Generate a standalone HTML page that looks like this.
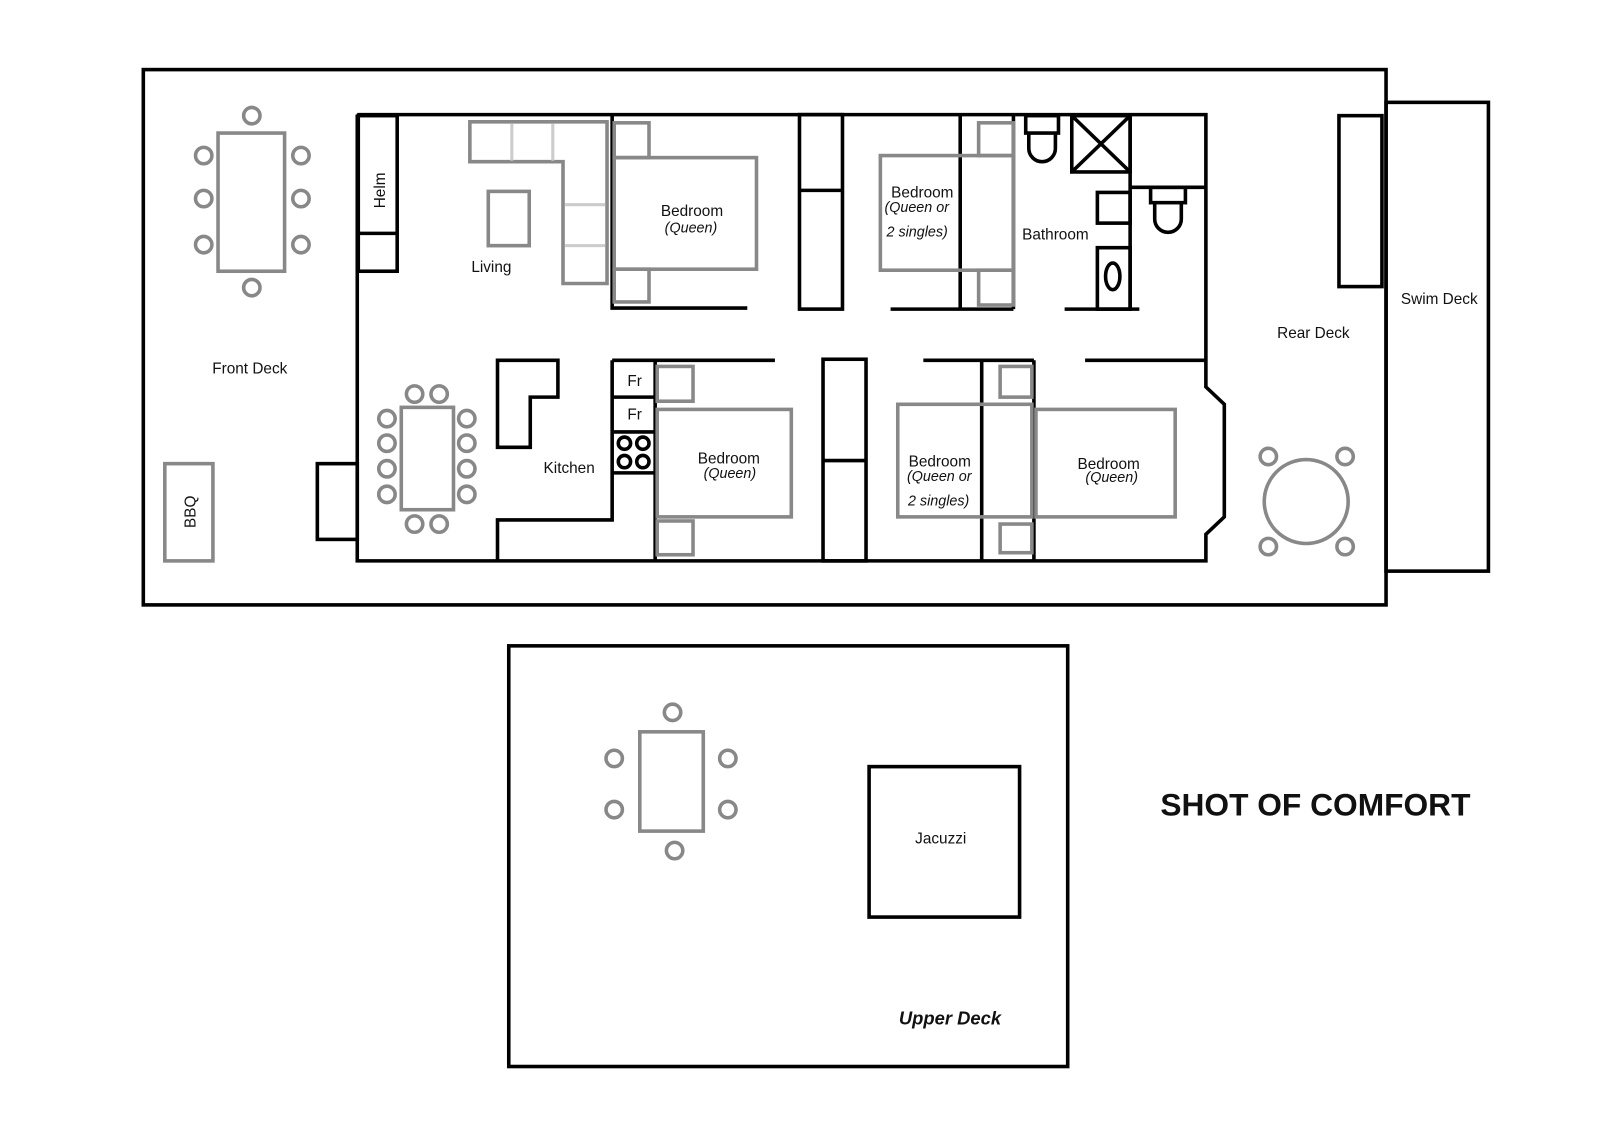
<!DOCTYPE html>
<html><head><meta charset="utf-8"><style>
html,body{margin:0;padding:0;background:#fff;}
svg{display:block;}
text{font-family:"Liberation Sans",sans-serif;fill:#111;}
</style></head><body>
<svg width="1600" height="1131" viewBox="0 0 1563 1105" preserveAspectRatio="none" xmlns="http://www.w3.org/2000/svg">
<rect width="1563" height="1105" fill="#fff"/>
<g fill="none" stroke="#000" stroke-width="3.5">
<rect x="140" y="68" width="1214" height="523"/>
<rect x="1354" y="100" width="100" height="458"/>
<rect x="1308" y="113" width="42" height="167"/>
<!-- cabin -->
<polyline points="349,112 1178,112 1178,378 1196,395 1196,505 1178,522 1178,548 349,548 349,112"/>
<rect x="350" y="113" width="38" height="152"/><line x1="350" y1="228" x2="388" y2="228"/>
<polyline points="598,112 598,301 730,301"/>
<rect x="781" y="112" width="42" height="190"/><line x1="781" y1="186" x2="823" y2="186"/>
<line x1="938" y1="112" x2="938" y2="302"/><line x1="990" y1="112" x2="990" y2="302"/>
<line x1="870" y1="302" x2="990" y2="302"/>
<rect x="1002" y="113" width="32" height="17"/>
<path d="M1005,130 V145 A13,13 0 0 0 1031,145 V130"/>
<rect x="1047" y="113" width="57" height="55"/>
<line x1="1047" y1="113" x2="1104" y2="168"/><line x1="1104" y1="113" x2="1047" y2="168"/>
<line x1="1104" y1="112" x2="1104" y2="302"/>
<line x1="1104" y1="183" x2="1178" y2="183"/>
<rect x="1124" y="183" width="34" height="15"/>
<path d="M1128,198 V214 A13,13 0 0 0 1154,214 V198"/>
<rect x="1072" y="188" width="32" height="30"/>
<rect x="1072" y="242" width="32" height="60"/>
<ellipse cx="1087" cy="270" rx="7" ry="13"/>
<line x1="1040" y1="302" x2="1113" y2="302"/>
<!-- lower -->
<line x1="598" y1="352" x2="757" y2="352"/>
<polyline points="598,352 598,508 486,508 486,548"/>
<line x1="640" y1="352" x2="640" y2="548"/>
<line x1="598" y1="388" x2="640" y2="388"/><line x1="598" y1="422" x2="640" y2="422"/><line x1="598" y1="462" x2="640" y2="462"/>
<circle cx="610" cy="433" r="6"/><circle cx="628" cy="433" r="6"/><circle cx="610" cy="451" r="6"/><circle cx="628" cy="451" r="6"/>
<polygon points="486,352 545,352 545,388 518,388 518,437 486,437"/>
<rect x="310" y="453" width="39" height="74"/>
<rect x="804" y="351" width="42" height="197"/><line x1="804" y1="450" x2="846" y2="450"/>
<line x1="902" y1="352" x2="1010" y2="352"/>
<line x1="959" y1="352" x2="959" y2="548"/><line x1="1010" y1="352" x2="1010" y2="548"/>
<line x1="1060" y1="352" x2="1178" y2="352"/>
<!-- upper deck -->
<rect x="497" y="631" width="546" height="411"/>
<rect x="849" y="749" width="147" height="147"/>
</g>
<g fill="none" stroke="#888" stroke-width="3.5">
<rect x="213" y="130" width="65" height="135"/>
<circle cx="246" cy="113" r="8"/><circle cx="246" cy="281" r="8"/>
<circle cx="199" cy="152" r="8"/><circle cx="199" cy="194" r="8"/><circle cx="199" cy="239" r="8"/>
<circle cx="294" cy="152" r="8"/><circle cx="294" cy="194" r="8"/><circle cx="294" cy="239" r="8"/>
<rect x="161" y="453" width="47" height="95"/>
<circle cx="1276" cy="490" r="41"/>
<circle cx="1239" cy="446" r="8"/><circle cx="1314" cy="446" r="8"/><circle cx="1239" cy="534" r="8"/><circle cx="1314" cy="534" r="8"/>
<polygon points="459,119 593,119 593,277 550,277 550,158 459,158"/>
<rect x="477" y="187" width="40" height="53"/>
<rect x="600" y="154" width="139" height="109"/>
<rect x="600" y="120" width="34" height="34"/><rect x="600" y="263" width="34" height="32"/>
<rect x="860" y="152" width="130" height="112"/>
<rect x="956" y="120" width="34" height="32"/><rect x="956" y="264" width="34" height="34"/>
<rect x="642" y="400" width="131" height="105"/>
<rect x="642" y="358" width="35" height="34"/><rect x="642" y="509" width="35" height="33"/>
<rect x="392" y="398" width="51" height="100"/>
<circle cx="378" cy="409" r="8"/><circle cx="378" cy="433" r="8"/><circle cx="378" cy="458" r="8"/><circle cx="378" cy="483" r="8"/>
<circle cx="456" cy="409" r="8"/><circle cx="456" cy="433" r="8"/><circle cx="456" cy="458" r="8"/><circle cx="456" cy="483" r="8"/>
<circle cx="405" cy="385" r="8"/><circle cx="429" cy="385" r="8"/><circle cx="405" cy="512" r="8"/><circle cx="429" cy="512" r="8"/>
<rect x="877" y="395" width="131" height="110"/>
<rect x="977" y="358" width="31" height="30"/><rect x="977" y="512" width="31" height="28"/>
<rect x="1012" y="400" width="136" height="105"/>
<rect x="625" y="715" width="62" height="97"/>
<circle cx="657" cy="696" r="8"/><circle cx="659" cy="831" r="8"/>
<circle cx="600" cy="741" r="8"/><circle cx="600" cy="791" r="8"/><circle cx="711" cy="741" r="8"/><circle cx="711" cy="791" r="8"/>
</g>
<g stroke="#ccc" stroke-width="3">
<line x1="500" y1="121" x2="500" y2="157"/><line x1="540" y1="121" x2="540" y2="157"/>
<line x1="552" y1="200" x2="591" y2="200"/><line x1="552" y1="240" x2="591" y2="240"/>
</g>
<g font-size="15">
<text x="376" y="186" transform="rotate(-90 376 186)" text-anchor="middle">Helm</text>
<text x="191" y="500" transform="rotate(-90 191 500)" text-anchor="middle">BBQ</text>
<text x="480" y="266" text-anchor="middle">Living</text>
<text x="244" y="365" text-anchor="middle">Front Deck</text>
<text x="676" y="211" text-anchor="middle">Bedroom</text>
<text x="675" y="227" text-anchor="middle" font-style="italic" font-size="14">(Queen)</text>
<text x="901" y="193" text-anchor="middle">Bedroom</text>
<text x="864" y="207" font-style="italic" font-size="14">(Queen or</text>
<text x="866" y="231" font-style="italic" font-size="14">2 singles)</text>
<text x="1031" y="234" text-anchor="middle">Bathroom</text>
<text x="1283" y="330" text-anchor="middle">Rear Deck</text>
<text x="1406" y="297" text-anchor="middle">Swim Deck</text>
<text x="620" y="377" text-anchor="middle">Fr</text>
<text x="620" y="410" text-anchor="middle">Fr</text>
<text x="556" y="462" text-anchor="middle">Kitchen</text>
<text x="712" y="453" text-anchor="middle">Bedroom</text>
<text x="713" y="467" text-anchor="middle" font-style="italic" font-size="14">(Queen)</text>
<text x="918" y="456" text-anchor="middle">Bedroom</text>
<text x="886" y="470" font-style="italic" font-size="14">(Queen or</text>
<text x="887" y="494" font-style="italic" font-size="14">2 singles)</text>
<text x="1083" y="458" text-anchor="middle">Bedroom</text>
<text x="1086" y="471" text-anchor="middle" font-style="italic" font-size="14">(Queen)</text>
<text x="919" y="824" text-anchor="middle">Jacuzzi</text>
<text x="928" y="1001" text-anchor="middle" font-style="italic" font-weight="bold" font-size="18">Upper Deck</text>
<text x="1285" y="797" text-anchor="middle" font-weight="bold" font-size="31">SHOT OF COMFORT</text>
</g>
</svg>
</body></html>
